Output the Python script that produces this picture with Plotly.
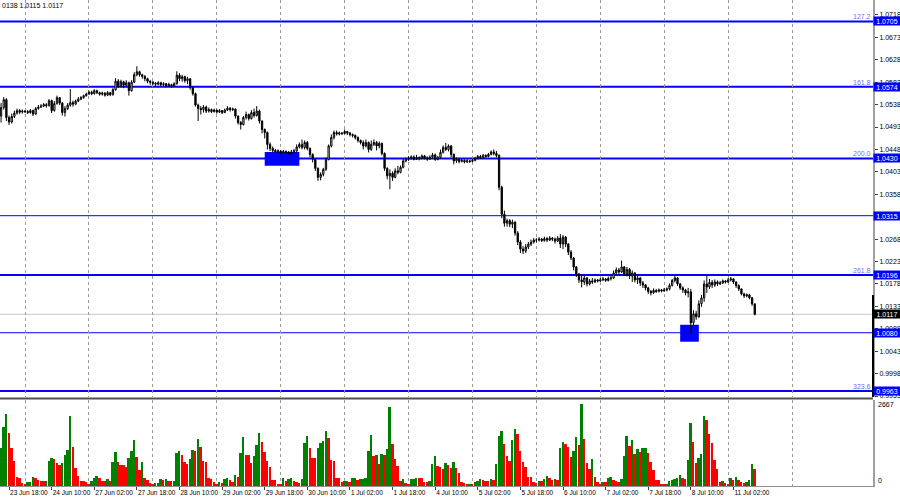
import pandas as pd
import plotly.graph_objects as go

# EURUSD H1, prices in pips above 1.0000 (open of a bar = close of the previous one)
first_open = 515
close_pips = [
    532, 548, 512, 503, 514, 521, 526, 523, 525,
    # 24 Jun
    524, 522, 526, 519, 530, 533, 535, 538, 536, 546, 526, 540,
    552, 541, 522, 530, 537, 542, 539, 545, 549, 552, 556, 559,
    # 27 Jun
    563, 560, 566, 562, 559, 561, 557, 562, 558, 568, 585, 576,
    584, 577, 582, 566, 583, 598, 604, 598, 595, 590, 585, 583,
    # 28 Jun
    581, 579, 582, 578, 580, 576, 578, 575, 580, 597, 590, 594,
    586, 590, 572, 560, 537, 530, 528, 533, 525, 528, 524, 527,
    # 29 Jun
    523, 526, 522, 527, 531, 528, 529, 515, 502, 498, 512, 518,
    510, 522, 516, 525, 505, 488, 482, 458, 450, 446, 443, 445,
    # 30 Jun
    441, 444, 442, 440, 443, 445, 453, 458, 452, 462, 450, 438,
    428, 410, 392, 398, 408, 428, 455, 472, 482, 479, 481, 480,
    # 1 Jul
    484, 481, 478, 476, 472, 466, 462, 455, 462, 448, 458, 462,
    455, 460, 440, 410, 395, 400, 392, 405, 402, 412, 425, 428,
    # 4 Jul
    430, 433, 428, 432, 430, 435, 431, 429, 433, 437, 428, 432,
    442, 452, 448, 455, 438, 425, 428, 424, 426, 423, 425, 424,
    # 5 Jul
    426, 430, 434, 432, 436, 434, 438, 443, 440, 436, 372, 318,
    300, 305, 298, 302, 280, 262, 248, 244, 252, 258, 262, 266,
    # 6 Jul
    266, 268, 265, 269, 266, 270, 268, 264, 270, 258, 272, 258,
    242, 230, 212, 198, 186, 182, 190, 178, 184, 182, 186, 184,
    # 7 Jul
    186, 188, 185, 189, 190, 200, 206, 202, 212, 198, 207, 194,
    200, 186, 190, 180, 176, 170, 163, 160, 165, 163, 166, 164,
    # 8 Jul
    166, 168, 175, 185, 190, 178, 170, 166, 160, 162, 100, 118,
    112, 138, 150, 178, 172, 181, 176, 182, 178, 180, 184, 182,
    # 11 Jul
    186, 188, 182, 175, 168, 158, 154, 156, 150, 138, 117,
]
high_pips = [
    541, 553, 551, 516, 520, 526, 530, 529, 528,
    527, 527, 529, 528, 533, 537, 539, 541, 541, 549, 548, 545,
    556, 553, 543, 535, 541, 569, 546, 548, 553, 555, 558, 562,
    566, 566, 569, 568, 564, 564, 563, 565, 563, 571, 591, 589,
    588, 586, 587, 584, 587, 603, 615, 606, 600, 597, 592, 587,
    585, 583, 585, 584, 583, 581, 582, 580, 583, 605, 601, 598,
    596, 594, 590, 574, 562, 540, 535, 537, 536, 532, 530, 530,
    528, 529, 527, 530, 535, 533, 532, 530, 516, 505, 515, 524,
    520, 527, 530, 535, 528, 506, 490, 484, 462, 454, 449, 448,
    446, 447, 446, 445, 447, 449, 458, 462, 468, 466, 465, 452,
    440, 430, 412, 402, 411, 432, 458, 478, 486, 486, 484, 483,
    488, 485, 483, 480, 478, 474, 468, 466, 468, 464, 466, 468,
    465, 464, 462, 442, 412, 408, 404, 410, 415, 416, 430, 432,
    434, 436, 436, 437, 434, 438, 437, 434, 436, 441, 440, 435,
    448, 456, 461, 458, 457, 440, 432, 430, 429, 428, 428, 427,
    430, 433, 437, 437, 439, 438, 441, 446, 448, 445, 438, 375,
    325, 309, 308, 307, 304, 284, 266, 254, 258, 262, 267, 270,
    270, 272, 270, 273, 272, 274, 272, 271, 274, 278, 276, 274,
    260, 246, 232, 214, 200, 196, 195, 192, 188, 190, 189, 188,
    190, 192, 190, 193, 194, 205, 211, 210, 225, 214, 212, 210,
    205, 202, 194, 192, 184, 178, 172, 166, 169, 168, 169, 168,
    170, 171, 179, 188, 195, 192, 180, 173, 168, 170, 168, 125,
    124, 145, 156, 185, 195, 188, 186, 187, 185, 184, 187, 186,
    190, 192, 189, 183, 177, 169, 160, 159, 158, 152, 138,
]
low_pips = [
    502, 528, 505, 497, 500, 511, 518, 519, 520,
    521, 519, 520, 515, 518, 528, 531, 533, 532, 534, 521, 524,
    538, 537, 516, 514, 527, 534, 534, 537, 543, 547, 550, 554,
    558, 557, 558, 559, 556, 556, 554, 555, 555, 556, 566, 572,
    573, 571, 575, 556, 564, 581, 595, 594, 590, 585, 581, 578,
    577, 575, 577, 574, 575, 573, 574, 572, 574, 578, 585, 584,
    582, 579, 568, 556, 534, 505, 518, 522, 521, 522, 521, 522,
    520, 521, 519, 521, 525, 524, 525, 510, 498, 488, 496, 508,
    506, 508, 512, 514, 500, 480, 470, 448, 445, 442, 439, 440,
    438, 439, 439, 437, 438, 440, 443, 450, 448, 448, 446, 432,
    422, 405, 385, 386, 394, 405, 426, 452, 468, 476, 476, 477,
    478, 477, 474, 472, 468, 462, 458, 448, 452, 442, 445, 455,
    446, 450, 436, 405, 388, 368, 385, 390, 398, 400, 410, 422,
    425, 427, 426, 427, 426, 428, 428, 425, 427, 430, 425, 426,
    430, 440, 445, 444, 432, 418, 421, 420, 422, 420, 421, 421,
    422, 424, 428, 429, 430, 431, 432, 436, 436, 432, 366, 310,
    293, 293, 292, 290, 275, 256, 240, 238, 240, 248, 254, 259,
    261, 263, 262, 263, 262, 264, 264, 259, 262, 250, 248, 252,
    236, 226, 205, 192, 180, 171, 176, 173, 175, 178, 180, 181,
    182, 184, 182, 183, 185, 188, 198, 197, 200, 194, 193, 188,
    182, 181, 178, 174, 170, 165, 158, 155, 158, 160, 161, 161,
    162, 163, 165, 173, 181, 174, 166, 160, 155, 151, 78, 95,
    106, 110, 132, 142, 160, 168, 170, 172, 174, 176, 178, 179,
    180, 183, 178, 170, 164, 155, 150, 151, 147, 134, 115,
]
volume = [
    1228, 1913, 2337, 1739, 1228, 826, 304, 250, 109,
    65, 130, 135, 283, 250, 196, 163, 160, 170, 815, 902, 870,
    761, 685, 761, 1011, 1174, 2283, 1261, 576, 326, 174, 163, 130,
    76, 174, 261, 326, 272, 174, 170, 217, 174, 772, 1098, 793,
    685, 680, 609, 902, 1141, 1500, 957, 522, 783, 250, 196, 87,
    65, 87, 109, 217, 210, 225, 152, 150, 174, 1065, 1141, 1000,
    793, 717, 891, 1174, 1141, 1522, 1283, 804, 793, 250, 239, 130,
    76, 141, 109, 217, 261, 196, 130, 359, 283, 1065, 1587, 1011,
    1000, 761, 978, 1337, 1739, 1424, 1120, 815, 609, 196, 190, 76,
    54, 250, 152, 217, 250, 163, 130, 109, 217, 1391, 1631, 1228,
    924, 902, 1228, 1391, 1467, 1783, 1554, 848, 815, 250, 245, 120,
    163, 170, 120, 250, 272, 196, 217, 239, 245, 1141, 1674, 989,
    1000, 717, 1033, 1020, 1207, 2565, 1370, 870, 652, 163, 217, 87,
    80, 217, 225, 261, 250, 245, 130, 125, 174, 717, 978, 652,
    630, 544, 739, 685, 598, 793, 598, 413, 141, 87, 54, 76,
    65, 141, 174, 217, 210, 174, 163, 217, 196, 717, 1631, 1794,
    1359, 978, 815, 1500, 1848, 1685, 1152, 793, 609, 304, 290, 130,
    87, 174, 152, 217, 326, 250, 196, 217, 210, 1228, 1446, 1359,
    1283, 957, 1152, 1609, 1337, 2663, 1522, 761, 544, 891, 304, 141,
    65, 141, 130, 250, 304, 196, 163, 141, 217, 978, 1631, 1304,
    1500, 1033, 1217, 1120, 1228, 1235, 1065, 793, 522, 196, 190, 65,
    33, 65, 174, 196, 217, 261, 359, 250, 228, 848, 2044, 1446,
    761, 902, 1044, 2283, 2152, 1685, 1391, 848, 565, 141, 163, 87,
    80, 250, 196, 283, 196, 141, 109, 141, 196, 717, 544,
]

levels = [1.0705, 1.0574, 1.0430, 1.0315, 1.0196, 1.0080, 0.9963]
level_tags = ["127.2", "161.8", "200.0", "", "261.8", "", "323.6"]
last_price = 1.0117
price_ticks = [1.0718, 1.0673, 1.0628, 1.0583, 1.0538, 1.0493, 1.0448, 1.0403, 1.0358,
               1.0313, 1.0268, 1.0223, 1.0178, 1.0133, 1.0088, 1.0043, 0.9998, 0.9953]
volume_max = 2667
tick_labels = ["23 Jun 18:00", "24 Jun 10:00", "27 Jun 02:00", "27 Jun 18:00", "28 Jun 10:00",
               "29 Jun 02:00", "29 Jun 18:00", "30 Jun 10:00", "1 Jul 02:00", "1 Jul 18:00",
               "4 Jul 10:00", "5 Jul 02:00", "5 Jul 18:00", "6 Jul 10:00", "7 Jul 02:00",
               "7 Jul 18:00", "8 Jul 10:00", "11 Jul 02:00"]
# blue zones: start, end, low, high
zones = [("2022-06-29 18:00", "2022-06-30 07:00", 1.0415, 1.0443),
         ("2022-07-08 06:00", "2022-07-08 13:00", 1.0062, 1.0096)]
header_text = "0138 1.0115 1.0117"

# trading hours (weekends skipped), bar position = index
hours = pd.date_range("2022-06-23 15:00", "2022-07-12 00:00", freq="h")
hours = hours[hours.dayofweek < 5]
pos = {t: k for k, t in enumerate(hours)}
n = len(close_pips)
xs = list(range(n))
day_starts = [k for k, t in enumerate(hours) if t.hour == 0]
tick_pos = [pos[pd.to_datetime(s + " 2022", format="%d %b %H:%M %Y")] for s in tick_labels]

opens = [first_open] + close_pips[:-1]
o = [1 + v / 10000 for v in opens]
c = [1 + v / 10000 for v in close_pips]
h = [max(1 + v / 10000, a, b) for v, a, b in zip(high_pips, o, c)]
l = [min(1 + v / 10000, a, b) for v, a, b in zip(low_pips, o, c)]

vol_colors = ["#008000"] + ["#008000" if volume[k] > volume[k - 1] else "#FF0000" for k in range(1, n)]

# a price label hidden under a level box is left blank
price_text = [f"{v:.4f}" if min(abs(v - lv) for lv in levels) > 0.0003 else "" for v in price_ticks]

fig = go.Figure()
fig.add_trace(go.Candlestick(
    x=xs, open=o, high=h, low=l, close=c,
    increasing=dict(line=dict(color="#000000", width=1), fillcolor="#FFFFFF"),
    decreasing=dict(line=dict(color="#000000", width=1), fillcolor="#000000"),
    xaxis="x", yaxis="y", hoverinfo="skip"))
fig.add_trace(go.Bar(x=xs, y=volume, marker=dict(color=vol_colors, line=dict(width=0)),
                     width=0.72, xaxis="x2", yaxis="y2", hoverinfo="skip"))

grid = dict(tickmode="array", tickvals=day_starts, showgrid=True, griddash="dot",
            gridcolor="#9a9a9a", gridwidth=1, ticks="")
xr = [-0.4, 327.4]
bottom_px, main_px, vol_top_px = 486, 397, 400

shapes = []
for lv, tag in zip(levels, level_tags):
    shapes.append(dict(type="line", xref="paper", x0=0, x1=1, yref="y", y0=lv, y1=lv,
                       line=dict(color="#0000FF", width=2 if tag else 1), layer="between"))
shapes.append(dict(type="line", xref="paper", x0=0, x1=1, yref="y", y0=last_price, y1=last_price,
                   line=dict(color="#C8C8C8", width=1), layer="between"))
for t0, t1, lo, hi in zones:
    shapes.append(dict(type="rect", xref="x", yref="y", x0=pos[pd.Timestamp(t0)], x1=pos[pd.Timestamp(t1)],
                       y0=lo, y1=hi, fillcolor="#0000FF", line=dict(width=0), layer="between"))
sep = (bottom_px - 398.5) / bottom_px
shapes.append(dict(type="line", xref="paper", x0=0, x1=1, yref="paper", y0=sep, y1=sep,
                   line=dict(color="#505050", width=2)))
shapes.append(dict(type="line", xref="paper", x0=1, x1=1, yref="paper",
                   y0=(bottom_px - 397) / bottom_px, y1=(bottom_px - 295) / bottom_px,
                   line=dict(color="#000000", width=2)))

annotations = []
for lv, tag in zip(levels, level_tags):
    annotations.append(dict(xref="paper", x=1, xanchor="left", yref="y", y=lv, yanchor="middle",
                            text=f"{lv:.4f}", showarrow=False, bgcolor="#0000FF", borderpad=0,
                            width=26, height=8, font=dict(color="white", size=7)))
    if tag:
        annotations.append(dict(xref="paper", x=1, xanchor="right", yref="y", y=lv, yanchor="bottom",
                                text=tag, showarrow=False, font=dict(color="#7070FF", size=7), yshift=-1))
annotations.append(dict(xref="paper", x=1, xanchor="left", yref="y", y=last_price, yanchor="middle",
                        text=f"{last_price:.4f}", showarrow=False, bgcolor="#000000", borderpad=0,
                        width=26, height=8, font=dict(color="white", size=7)))
annotations.append(dict(xref="paper", x=1, xanchor="left", xshift=3, yref="y2", y=volume_max,
                        yanchor="middle", text=str(volume_max), showarrow=False, font=dict(size=7)))
annotations.append(dict(xref="paper", x=1, xanchor="left", xshift=3, yref="y2", y=0,
                        yanchor="bottom", text="0", showarrow=False, font=dict(size=7)))
annotations.append(dict(xref="paper", x=0, xanchor="left", yref="paper", y=1, yanchor="top",
                        text=header_text, showarrow=False, font=dict(size=7)))

fig.update_layout(
    width=900, height=500,
    margin=dict(l=0, r=27, t=0, b=500 - bottom_px, pad=0),
    paper_bgcolor="white", plot_bgcolor="white", showlegend=False,
    font=dict(family="Liberation Sans", size=7, color="black"),
    xaxis=dict(anchor="y", range=xr, showticklabels=False, showgrid=False, zeroline=False,
               ticks="", rangeslider=dict(visible=False), minor=grid, automargin=False),
    xaxis2=dict(anchor="y2", range=xr, tickmode="array", tickvals=tick_pos, ticktext=tick_labels,
                ticks="outside", ticklen=3, tickcolor="#404040", ticklabelposition="outside right",
                tickangle=0, tickfont=dict(size=6.5), showline=True, linecolor="#909090",
                linewidth=1, showgrid=False, zeroline=False, minor=grid, automargin=False),
    yaxis=dict(domain=[(bottom_px - main_px) / bottom_px, 1], side="right", range=[0.9951, 1.0748],
               tickmode="array", tickvals=price_ticks, ticktext=price_text,
               ticks="outside", ticklen=3, tickcolor="#404040", showline=True, linecolor="#a0a0a0",
               linewidth=2, showgrid=False, zeroline=False, automargin=False),
    yaxis2=dict(domain=[0, (bottom_px - vol_top_px) / bottom_px], side="right",
                range=[0, volume_max * (bottom_px - vol_top_px) / 82], showticklabels=False,
                ticks="", showline=True, linecolor="#a0a0a0", linewidth=2, showgrid=False,
                zeroline=False, automargin=False),
    shapes=shapes, annotations=annotations, bargap=0,
)

# the page's default body margin would push the figure 8px down and right
fig.write_html("out.html", config={"displayModeBar": False},
               post_script="document.body.style.margin = '0';")
